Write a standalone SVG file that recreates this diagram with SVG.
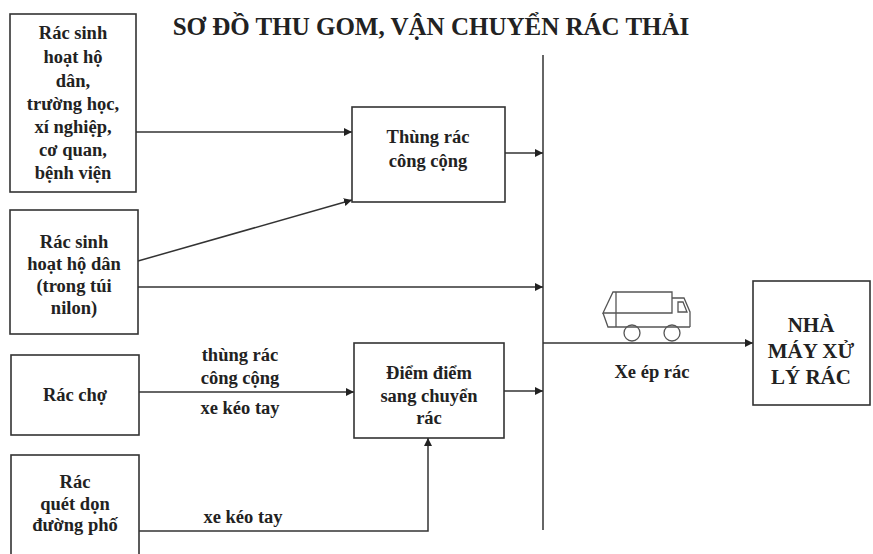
<svg xmlns="http://www.w3.org/2000/svg" width="873" height="554" viewBox="0 0 873 554">
<style>
.box{fill:#fff;stroke:#333;stroke-width:1.6}
.t{font-family:"Liberation Serif","Times New Roman",serif;font-weight:bold;font-size:18.5px;fill:#222;text-anchor:middle;dominant-baseline:central}
.big{font-size:21px}
.title{font-size:25px}
.c{fill:none;stroke:#333;stroke-width:1.5}
.truck{fill:none;stroke:#555;stroke-width:1.3}
</style>
<defs>
<marker id="ah" viewBox="0 0 10 10" refX="10" refY="5" markerWidth="8" markerHeight="8" markerUnits="userSpaceOnUse" orient="auto">
<path d="M0,0 L10,5 L0,10 z" fill="#222"/>
</marker>
</defs>
<rect width="873" height="554" fill="#fff"/>
<text class="t title" x="431" y="26">SƠ ĐỒ THU GOM, VẬN CHUYỂN RÁC THẢI</text>

<g id="connectors">
<line class="c" x1="543" y1="55" x2="543" y2="530"/>
<line class="c" x1="136" y1="132" x2="352" y2="132" marker-end="url(#ah)"/>
<line class="c" x1="505" y1="153" x2="543" y2="153" marker-end="url(#ah)"/>
<line class="c" x1="138" y1="261" x2="352" y2="200" marker-end="url(#ah)"/>
<line class="c" x1="138" y1="287" x2="543" y2="287" marker-end="url(#ah)"/>
<line class="c" x1="139" y1="392" x2="354" y2="392" marker-end="url(#ah)"/>
<polyline class="c" points="139,531 428,531 428,438" marker-end="url(#ah)"/>
<line class="c" x1="504" y1="391" x2="543" y2="391" marker-end="url(#ah)"/>
<line class="c" x1="543" y1="343" x2="753" y2="343" marker-end="url(#ah)"/>
<text class="t" x="240" y="355">thùng rác</text>
<text class="t" x="240" y="378">công cộng</text>
<text class="t" x="240" y="408">xe kéo tay</text>
<text class="t" x="243" y="517">xe kéo tay</text>
<text class="t" x="652" y="372">Xe ép rác</text>
</g>

<g id="truck">
<path class="truck" d="M613,292 L672,292 L672,313 L603,313 Z"/>
<path class="truck" d="M603,313 L608,327 L690,327"/>
<line class="truck" x1="616" y1="292" x2="616" y2="327"/>
<path class="truck" d="M672,298 L684,298 L690,312 L690,327"/>
<path class="truck" d="M678,302 L683,302 L687,312 L678,312 Z"/>
<circle class="truck" cx="632" cy="333" r="8" fill="#fff"/>
<circle class="truck" cx="672" cy="333" r="8" fill="#fff"/>
</g>

<g id="n1">
<rect class="box" x="10" y="14" width="126" height="178"/>
<text class="t" x="73" y="33">Rác sinh</text>
<text class="t" x="73" y="57">hoạt hộ</text>
<text class="t" x="73" y="81">dân,</text>
<text class="t" x="73" y="104">trường học,</text>
<text class="t" x="73" y="127">xí nghiệp,</text>
<text class="t" x="73" y="150">cơ quan,</text>
<text class="t" x="73" y="173">bệnh viện</text>
</g>

<g id="n2">
<rect class="box" x="10" y="210" width="128" height="124"/>
<text class="t" x="74" y="242">Rác sinh</text>
<text class="t" x="74" y="264">hoạt hộ dân</text>
<text class="t" x="74" y="286">(trong túi</text>
<text class="t" x="74" y="308">nilon)</text>
</g>

<g id="n3">
<rect class="box" x="11" y="355" width="128" height="80"/>
<text class="t" x="75" y="395">Rác chợ</text>
</g>

<g id="n4">
<rect class="box" x="11" y="455" width="128" height="110"/>
<text class="t" x="75" y="482">Rác</text>
<text class="t" x="75" y="504">quét dọn</text>
<text class="t" x="75" y="525">đường phố</text>
</g>

<g id="n5">
<rect class="box" x="352" y="107" width="153" height="95"/>
<text class="t" x="428" y="137">Thùng rác</text>
<text class="t" x="428" y="161">công cộng</text>
</g>

<g id="n6">
<rect class="box" x="354" y="343" width="150" height="95"/>
<text class="t" x="429" y="373">Điểm điểm</text>
<text class="t" x="429" y="396">sang chuyển</text>
<text class="t" x="429" y="418">rác</text>
</g>

<g id="n7">
<rect class="box" x="753" y="281" width="117" height="124"/>
<text class="t big" x="811" y="325">NHÀ</text>
<text class="t big" x="811" y="351">MÁY XỬ</text>
<text class="t big" x="811" y="377">LÝ RÁC</text>
</g>
</svg>
